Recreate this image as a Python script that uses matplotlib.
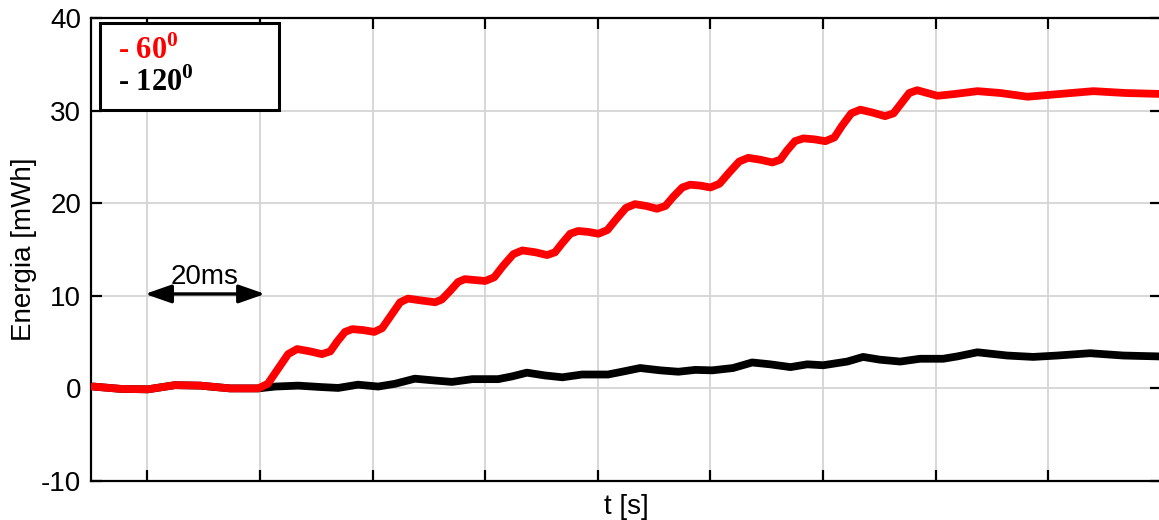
import matplotlib
matplotlib.use("Agg")
import numpy as np
import matplotlib.pyplot as plt

plt.rcParams['font.family'] = ['Liberation Sans', 'DejaVu Sans']
plt.rcParams['axes.unicode_minus'] = False
plt.rcParams['mathtext.fontset'] = 'custom'
plt.rcParams['mathtext.bf'] = 'Liberation Serif:bold'
plt.rcParams['mathtext.rm'] = 'Liberation Serif:bold'

# time in ms, energy in mWh
t_60 = [0.4, 5.2, 10.1, 14.9, 19.4, 24.7, 29.7, 31.4, 33.2, 35.0, 36.6, 38.9,
        41.0, 42.5, 43.7, 45.1, 46.4, 48.3, 50.3, 51.7, 53.3, 54.9, 56.3, 58.6,
        61.1, 62.3, 63.8, 65.2, 66.4, 68.2, 70.0, 71.6, 73.2, 75.0, 76.6, 78.9,
        81.0, 82.4, 83.7, 85.1, 86.5, 88.3, 90.1, 91.7, 93.3, 95.0, 96.6, 98.6,
        100.5, 102.0, 103.4, 105.0, 106.4, 108.2, 110.0, 111.6, 113.3, 115.1,
        116.7, 118.8, 121.0, 122.4, 123.6, 125.0, 126.5, 128.4, 130.4, 132.0,
        133.4, 135.0, 136.6, 138.7, 141.0, 142.5, 143.9, 145.3, 146.7, 148.5,
        150.3, 153.5, 157.4, 161.5, 166.3, 172.1, 178.0, 183.7, 189.9]
e_60 = [0.2, -0.05, -0.1, 0.35, 0.3, 0.0, 0.0, 0.5, 2.1, 3.7, 4.25, 4.0,
        3.7, 4.0, 5.05, 6.1, 6.4, 6.3, 6.1, 6.5, 7.9, 9.3, 9.7, 9.5,
        9.3, 9.6, 10.55, 11.5, 11.8, 11.7, 11.6, 12.0, 13.25, 14.5, 14.9, 14.7,
        14.4, 14.7, 15.7, 16.7, 17.0, 16.9, 16.7, 17.1, 18.3, 19.5, 19.9, 19.7,
        19.4, 19.7, 20.7, 21.7, 22.0, 21.9, 21.7, 22.1, 23.3, 24.5,
        24.9, 24.7, 24.4, 24.7, 25.7, 26.7, 27.0, 26.9, 26.7, 27.1,
        28.4, 29.7, 30.1, 29.8, 29.4, 29.7, 30.8, 31.9, 32.2, 31.9,
        31.6, 31.8, 32.1, 31.9, 31.5, 31.8, 32.1, 31.9, 31.8]

t_120 = [0.4, 5.2, 10.1, 14.9, 19.4, 24.7, 29.7, 32.7, 36.8, 40.7, 43.9, 47.4,
         51.0, 54.0, 57.5, 61.1, 64.1, 67.7, 72.3, 74.8, 77.4, 80.6, 83.7, 87.2,
         91.8, 94.3, 97.5, 101.1, 104.3, 107.3, 110.3, 114.0, 117.4, 120.6,
         124.2, 127.2, 130.0, 134.3, 137.1, 140.1, 143.7, 147.2, 151.3, 153.8,
         157.4, 162.7, 167.3, 171.6, 177.4, 183.3, 189.9]
e_120 = [0.2, -0.05, -0.1, 0.35, 0.3, 0.0, 0.0, 0.2, 0.3, 0.15, 0.05, 0.4,
         0.2, 0.5, 1.05, 0.85, 0.7, 1.0, 1.0, 1.3, 1.7, 1.4, 1.2, 1.5,
         1.5, 1.8, 2.2, 1.95, 1.8, 2.0, 1.95, 2.2, 2.8, 2.6,
         2.3, 2.6, 2.5, 2.9, 3.4, 3.1, 2.9, 3.2, 3.2, 3.45,
         3.9, 3.55, 3.4, 3.55, 3.8, 3.55, 3.45]

labels = [r'- 60$^{\mathbf{0}}$', r'- 120$^{\mathbf{0}}$']
x_grid = np.arange(10, 171, 20)
y_ticks = [-10, 0, 10, 20, 30, 40]

fig = plt.figure(figsize=(11.59, 5.2), dpi=100)
ax = fig.add_axes([91 / 1159, 39 / 520, 1070 / 1159, 463 / 520])

l120, = ax.plot(t_120, e_120, color='black', lw=5.6, zorder=3,
                solid_joinstyle='round', solid_capstyle='round')
l60, = ax.plot(t_60, e_60, color='red', lw=5.6, zorder=4,
               solid_joinstyle='round', solid_capstyle='round')

ax.set_xlim(0, 190)
ax.set_ylim(-10, 40)
ax.set_xticks(x_grid)
ax.set_yticks(y_ticks)
ax.grid(True, color='#d4d4d4', lw=1.3)
ax.set_axisbelow(True)
ax.tick_params(direction='in', length=8, width=1.6, top=True, right=True,
               labelbottom=False, labelsize=20, pad=7)
for s in ax.spines.values():
    s.set_linewidth(1.6)

ax.set_xlabel('t [s]', fontsize=20, labelpad=9)
ax.set_ylabel('Energia [mWh]', fontsize=20, labelpad=3)

# 20 ms marker
ax.annotate('', xy=(9.6, 10.2), xytext=(30.9, 10.2),
            arrowprops=dict(arrowstyle='<|-|>,head_length=0.8,head_width=0.28',
                            color='black', lw=2.4, shrinkA=0, shrinkB=0,
                            mutation_scale=20))
ax.annotate('20ms', xy=(20.2, 10.2), xytext=(0, 3), textcoords='offset points',
            ha='center', va='bottom', fontsize=20)

leg = ax.legend([l60, l120], labels, loc='upper left', mode='expand',
                bbox_to_anchor=(0.0084, 0.801, 0.1673, 0.188),
                borderaxespad=0, handlelength=0, handletextpad=0.2,
                borderpad=0.4, labelspacing=0.05, fancybox=False,
                framealpha=1, edgecolor='black',
                prop={'family': 'Liberation Serif', 'weight': 'bold', 'size': 22},
                labelcolor=['red', 'black'])
leg.get_frame().set_linewidth(2.2)
for h in leg.legend_handles:
    h.set_visible(False)

fig.savefig('out.png', dpi=100)
